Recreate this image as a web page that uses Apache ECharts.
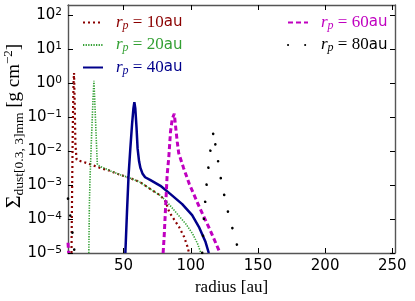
<!DOCTYPE html>
<html><head><meta charset="utf-8">
<script src="https://cdn.jsdelivr.net/npm/echarts@6/dist/echarts.min.js"></script>
<style>html,body{margin:0;padding:0;background:#fff}#c{width:415px;height:301px}</style>
</head><body><div id="c"></div>
<script>
// ---- data ----
const xTicks = [50, 100, 150, 200, 250];
const yTicks = [1e-5, 1e-4, 1e-3, 1e-2, 1e-1, 1, 10, 100];
const legendLabels = ['10', '20', '40', '60', '80'];

const r10 = [11.2, 11.7, 12.2, 12.7, 13.1, 13.6, 14.1, 15.0, 16.0, 19.0, 23.0, 26.5, 33.5, 39.0, 47.5, 55.0, 62.5, 70.0, 77.4, 81.2, 84.0, 86.3, 91.2, 95.0, 97.5, 98.7];
const s10 = [1e-5, 1e-3, 6.3e-2, 1.0, 2.0, 2.5e-1, 1.6e-2, 5.6e-3, 5.2e-3, 4.9e-3, 4.4e-3, 3.9e-3, 3.1e-3, 2.7e-3, 2.0e-3, 1.6e-3, 1.2e-3, 7.6e-4, 4.9e-4, 3.3e-4, 1.6e-4, 1.15e-4, 5.9e-5, 3.0e-5, 1.55e-5, 1.0e-5];

const r20 = [24.1, 24.5, 25.0, 25.4, 26.0, 26.7, 27.3, 27.9, 28.5, 29.2, 29.8, 30.4, 32.0, 35.3, 40.3, 47.5, 55.0, 62.5, 70.0, 77.4, 81.2, 83.7, 90.0, 96.3, 101.3, 105.0, 107.5];
const s20 = [1e-5, 2.5e-4, 1.6e-3, 4.2e-3, 2.0e-2, 1.0e-1, 4.0e-1, 1.17, 3.2e-1, 6.3e-2, 1.6e-2, 4.2e-3, 3.6e-3, 3.2e-3, 2.6e-3, 2.0e-3, 1.6e-3, 1.2e-3, 7.6e-4, 4.9e-4, 3.5e-4, 2.75e-4, 1.4e-4, 7.2e-5, 3.7e-5, 1.9e-5, 1.0e-5];

const r40 = [51.3, 52.5, 53.7, 55.0, 56.3, 57.3, 58.0, 58.7, 59.6, 60.4, 61.5, 62.5, 64.0, 66.0, 70.0, 77.4, 84.9, 93.6, 101.0, 106.0, 111.0, 113.4];
const s40 = [1e-5, 1.6e-4, 2.0e-3, 1.2e-2, 6.3e-2, 1.8e-1, 2.75e-1, 1.8e-1, 5.0e-2, 1.2e-2, 5.0e-3, 3.2e-3, 2.2e-3, 1.7e-3, 1.4e-3, 9.5e-4, 5.4e-4, 2.75e-4, 1.3e-4, 5.9e-5, 2.1e-5, 1.0e-5];

const r60in = [8.6, 9.1];
const s60in = [2.0e-5, 1.0e-5];
const r60 = [79.4, 80.2, 81.3, 82.4, 83.6, 84.9, 86.2, 87.7, 88.6, 89.9, 91.0, 94.6, 99.0, 106.5, 114.3, 121.8];
const s60 = [1e-5, 3.2e-5, 2.5e-4, 2.0e-3, 6.3e-3, 3.7e-2, 8.9e-2, 1.26e-1, 5.8e-2, 1.9e-2, 8.7e-3, 3.2e-3, 1.05e-3, 2.2e-4, 4.8e-5, 1.0e-5];

const r80in = [8.6, 9.3, 10.4, 11.7, 13.0, 13.5];
const s80in = [4.0e-4, 2.75e-4, 1.15e-4, 4.8e-5, 1.55e-5, 1.0e-5];
const r80 = [108.5, 109.7, 111.7, 114.0, 116.0, 117.2, 118.4, 120.7, 122.9, 125.4, 127.9, 130.4, 132.8, 135.6, 136.2];
const s80 = [1e-5, 1.0e-4, 1.0e-3, 7.1e-3, 2.5e-2, 4.0e-2, 1.4e-2, 4.1e-3, 1.15e-3, 4.1e-4, 1.5e-4, 6.6e-5, 2.8e-5, 1.2e-5, 1.0e-5];

// ---- build ----
function pts(rs, ss) { return rs.map((r, i) => [r, ss[i]]); }
function gap() { return [['-', '-']]; }

const colors = ['#8b0000', '#33a033', '#00008b', '#c000c0', '#000000'];
const datas = [
  pts(r10, s10),
  pts(r20, s20),
  pts(r40, s40),
  pts(r60in, s60in).concat(gap(), pts(r60, s60)),
  pts(r80in, s80in).concat(gap(), pts(r80, s80))
];
const styles = [
  { width: 2.2, type: [2, 3], cap: 'butt' },
  { width: 1.6, type: [1.3, 1.3], cap: 'butt' },
  { width: 2.5, type: 'solid' },
  { width: 3, type: [5, 3], cap: 'butt' },
  { width: 2.6, type: [0.1, 17], cap: 'round' }
];

const series = legendLabels.map((lab, i) => ({
  type: 'line', name: lab, data: datas[i], symbol: 'none', showSymbol: false,
  connectNulls: false, clip: true, silent: true, animation: false,
  color: colors[i],
  lineStyle: Object.assign({ color: colors[i] }, styles[i]),
  z: 2 + i
}));

const legendRich = {
  r: { fontFamily: 'Liberation Serif', fontStyle: 'italic', fontSize: 17, lineHeight: 18 },
  p: { fontFamily: 'Liberation Serif', fontStyle: 'italic', fontSize: 12, verticalAlign: 'bottom' },
  e: { fontFamily: 'Liberation Serif', fontSize: 17, lineHeight: 18 },
  a: { fontFamily: 'DejaVu Sans', fontSize: 15, lineHeight: 18 }
};
function legendFmt(name) { return '{r|r}{p|p}{e| = ' + name + '}{a|au}'; }
function legendCfg(idx, left) {
  return {
    data: idx.map(i => ({ name: legendLabels[i], textStyle: { color: colors[i] }, itemStyle: { opacity: 0 } })),
    left: left, top: 14, orient: 'vertical', itemGap: 5, itemWidth: 20, itemHeight: 12,
    selectedMode: false, formatter: legendFmt, padding: 0,
    itemStyle: { opacity: 0 },
    textStyle: { rich: legendRich, padding: [0, 0, 0, 8] }
  };
}

const frame = { show: true, lineStyle: { color: '#555', width: 1.4 } };
const tick = { show: true, inside: true, length: 5, lineStyle: { color: '#000', width: 1 } };

const option = {
  animation: false,
  grid: { left: 68, right: 20, top: 5, bottom: 44.5 },
  xAxis: [
    {
      type: 'value', min: 8.6, max: 252, position: 'bottom',
      axisLine: frame, splitLine: { show: false },
      axisTick: Object.assign({ customValues: xTicks }, tick),
      axisLabel: { customValues: xTicks, margin: 6, fontFamily: 'DejaVu Sans', fontSize: 15, color: '#000' },
      name: 'radius [au]', nameLocation: 'middle', nameGap: 26,
      nameTextStyle: { fontFamily: 'Liberation Serif', fontSize: 17, color: '#000' }
    },
    {
      type: 'value', min: 8.6, max: 252, position: 'top',
      axisLine: frame, splitLine: { show: false },
      axisTick: Object.assign({ customValues: xTicks }, tick),
      axisLabel: { show: false }
    }
  ],
  yAxis: [
    {
      type: 'log', logBase: 10, min: 1e-5, max: 200, position: 'left',
      axisLine: frame, splitLine: { show: false }, minorTick: { show: false },
      axisTick: Object.assign({ customValues: yTicks }, tick),
      axisLabel: {
        customValues: yTicks, margin: 6, color: '#000',
        formatter: function (v) {
          const e = Math.round(Math.log10(v));
          return '{b|10}{s|' + (e < 0 ? '\u2212' + (-e) : '' + e) + '}';
        },
        rich: {
          b: { fontFamily: 'DejaVu Sans', fontSize: 15, lineHeight: 17 },
          s: { fontFamily: 'DejaVu Sans', fontSize: 10.5, verticalAlign: 'top' }
        }
      }
    },
    {
      type: 'log', logBase: 10, min: 1e-5, max: 200, position: 'right',
      axisLine: frame, splitLine: { show: false },
      axisTick: Object.assign({ customValues: yTicks }, tick),
      axisLabel: { show: false }
    }
  ],
  legend: [legendCfg([0, 1, 2], 82), legendCfg([3, 4], 287)],
  graphic: [{
    type: 'text', x: 14, y: 126, rotation: Math.PI / 2,
    style: {
      text: '{S|\u03A3}{d|dust[0.3, 3]mm}{u| [g cm}{e|\u22122}{u|]}',
      align: 'center', verticalAlign: 'middle', fill: '#000',
      rich: {
        S: { fontFamily: 'Liberation Serif', fontSize: 22, lineHeight: 24 },
        d: { fontFamily: 'Liberation Serif', fontSize: 13.5, verticalAlign: 'bottom' },
        u: { fontFamily: 'Liberation Serif', fontSize: 19, lineHeight: 24 },
        e: { fontFamily: 'Liberation Serif', fontSize: 13, verticalAlign: 'top' }
      }
    }
  }],
  series: series
};
const chart = echarts.init(document.getElementById('c'));
chart.setOption(option);
</script>
</body></html>
